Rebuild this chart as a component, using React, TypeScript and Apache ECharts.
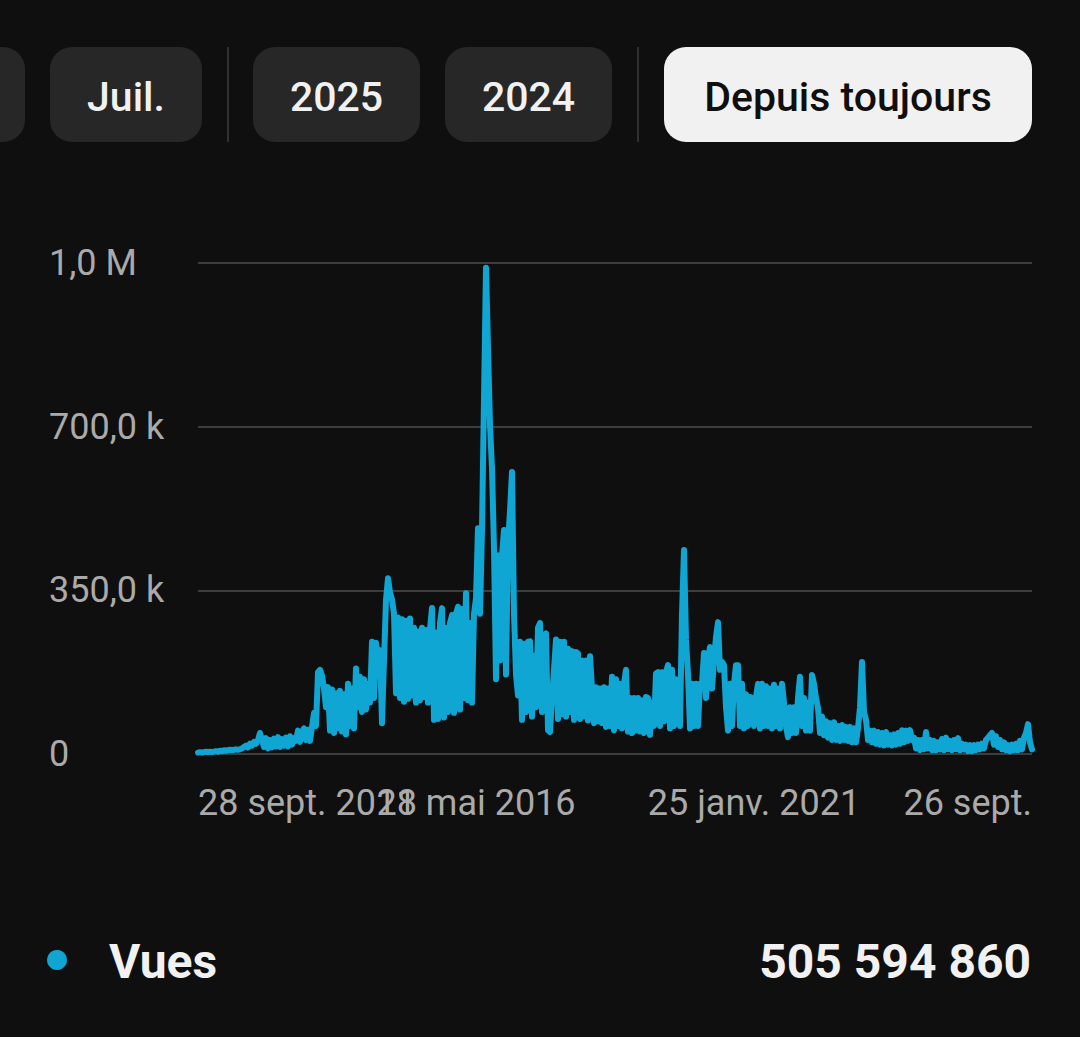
import React, { useEffect, useRef } from "react";
import * as echarts from "echarts";

// Views (in thousands), left to right, evenly spaced in time
const viewsEarly = [
  3, 4, 3, 4, 5, 4, 5, 4, 5, 6, 5,
  7, 6, 8, 7, 8, 9, 8, 9, 10, 9, 10,
  12, 15, 18, 14, 22, 18, 26, 22, 30,
  45, 30,
  15, 34, 12, 30, 14, 33, 16, 36, 15, 32, 18, 35, 16, 38, 20, 34,
  28, 50, 26, 45, 55, 30, 52, 28, 58,
  88, 60, 175, 180, 168, 140, 100,
  143, 50, 138, 45, 130, 55, 135, 48, 128, 42,
  150, 60, 140, 55, 183, 100, 165, 90, 160, 95, 150, 110,
  240, 120, 238, 200, 222, 66, 200, 330, 376, 345, 330, 300, 130, 292,
  120, 288, 112, 285, 118, 290, 125, 270, 110, 262, 115, 270, 122, 265, 110, 268,
  312, 73, 260, 75, 280, 312, 78, 270, 90, 280, 297, 88, 300, 315, 95, 310, 120,
  344, 115, 280, 110, 300, 333,
];
const viewsMiddle = [
  483, 300, 480, 760, 1040, 868, 703, 611, 440, 160,
  425, 200, 425, 479, 170, 450, 520, 603, 300, 170,
  125, 240, 73, 235, 90, 240, 241, 80, 210, 100,
  270, 280, 90, 250, 258, 51, 47, 120, 180, 245,
  75, 240, 85, 240, 80, 225, 90, 220, 73, 218,
  215, 75, 200, 80, 200, 72, 209, 140, 66, 143,
  70, 140, 66, 143, 58, 140, 60, 165, 51, 160,
  60, 150, 55, 150, 180, 48, 120, 45, 120, 50,
  120, 48, 115, 45, 122, 120, 41, 110, 60, 172,
  175, 60, 175, 70, 175, 190, 55, 180, 60, 160,
  150, 60, 300, 436, 244, 170, 55, 150, 60, 150,
  60, 150, 150, 216, 120, 200, 229, 140, 200, 250,
  282, 180, 197, 190, 100, 50, 150, 60, 150, 190,
  190, 60, 150, 55, 128, 60, 122, 120, 60,
];
const viewsLate = [
  122, 150, 55, 150, 60, 145, 60, 140, 55, 148,
  60, 140, 55, 150, 110, 60, 36, 100, 45, 100,
  45, 120, 165, 60, 120, 50, 110, 50, 169, 150,
  120, 98, 45, 80, 40, 70, 35, 66, 30, 68,
  30, 60, 28, 62, 30, 58, 28, 58, 25, 55,
  25, 55, 100, 197, 90, 73, 30, 50, 25, 50,
  22, 47, 20, 45, 18, 47, 20, 40, 18, 42,
  20, 45, 22, 51, 25, 50, 28, 51, 30, 35,
  12, 30, 8, 30, 10, 47, 12, 30, 8, 28,
  8, 25, 10, 32, 8, 35, 10, 28, 8, 30,
  10, 34, 8, 22, 10, 20, 6, 19, 6, 19,
  8, 20, 10, 22, 12, 30, 35, 40, 45, 20,
  38, 15, 30, 10, 25, 8, 19, 6, 20, 8,
  22, 8, 28, 10, 35, 45, 64, 25, 10,
];

const xTickLabels = ["28 sept. 2011", "28 mai 2016", "25 janv. 2021", "26 sept."];
const yTickLabels = ["0", "350,0 k", "700,0 k", "1,0 M"];
const periodButtons = ["Juil.", "2025", "2024", "Depuis toujours"];
const legendName = "Vues";
const totalViews = "505 594 860";

const LINE = "#10a6d4";
const BG = "#0f0f0f";
const FONT = "Roboto, 'Noto Sans', sans-serif";

export default function App() {
  const ref = useRef<HTMLDivElement>(null);
  useEffect(() => {
    if (!ref.current) return;
    const chart = echarts.init(ref.current, undefined, { renderer: "svg" });
    const views = [...viewsEarly, ...viewsMiddle, ...viewsLate];
    const lastIdx = views.length - 1;
    const step = lastIdx / 3;

    const btn = (x: number, w: number, label: string, selected: boolean) => ({
      type: "group",
      children: [
        {
          type: "rect",
          shape: { x, y: 47, width: w, height: 95, r: 22 },
          style: { fill: selected ? "#f1f1f1" : "#272727" },
        },
        {
          type: "text",
          x: x + w / 2,
          y: 97,
          style: {
            text: label,
            fill: selected ? "#0f0f0f" : "#f1f1f1",
            font: `500 41px ${FONT}`,
            align: "center",
            verticalAlign: "middle",
          },
        },
      ],
    });

    const xLabel = {
      color: "#aaaaaa",
      fontSize: 36,
      fontFamily: FONT,
      margin: 31,
      hideOverlap: false,
    };

    chart.setOption({
      animation: false,
      backgroundColor: BG,
      grid: { left: 198, right: 48, top: 263, bottom: 283, containLabel: false },
      xAxis: [
        {
          type: "value",
          min: 0,
          max: lastIdx,
          interval: step,
          axisLine: { show: false },
          axisTick: { show: false },
          splitLine: { show: false },
          axisLabel: {
            ...xLabel,
            showMinLabel: false,
            showMaxLabel: true,
            alignMaxLabel: "right",
            formatter: (v: number) => xTickLabels[Math.round(v / step)] ?? "",
          },
        },
        {
          type: "value",
          position: "bottom",
          min: 0,
          max: lastIdx,
          interval: lastIdx,
          axisLine: { show: false },
          axisTick: { show: false },
          splitLine: { show: false },
          axisLabel: {
            ...xLabel,
            showMinLabel: true,
            showMaxLabel: false,
            alignMinLabel: "left",
            formatter: (v: number) => (v === 0 ? xTickLabels[0] : ""),
          },
        },
      ],
      yAxis: {
        type: "value",
        min: 0,
        max: 1050,
        interval: 350,
        axisLine: { show: false },
        axisTick: { show: false },
        splitLine: { lineStyle: { color: "#3d3d3d", width: 2 } },
        axisLabel: {
          color: "#aaaaaa",
          fontSize: 36,
          fontFamily: FONT,
          align: "left",
          margin: 149,
          formatter: (v: number) => yTickLabels[Math.round(v / 350)] ?? "",
        },
      },
      series: [
        {
          type: "line",
          name: legendName,
          xAxisIndex: 0,
          data: views.map((v, i) => [i, v]),
          showSymbol: false,
          lineStyle: { color: LINE, width: 6, join: "round", cap: "round" },
          itemStyle: { color: LINE },
        },
      ],
      graphic: [
        btn(-60, 85, "", false),
        btn(50, 152, periodButtons[0], false),
        {
          type: "line",
          shape: { x1: 228, y1: 47, x2: 228, y2: 142 },
          style: { stroke: "#303030", lineWidth: 2 },
        },
        btn(253, 167, periodButtons[1], false),
        btn(445, 167, periodButtons[2], false),
        {
          type: "line",
          shape: { x1: 638, y1: 47, x2: 638, y2: 142 },
          style: { stroke: "#303030", lineWidth: 2 },
        },
        btn(664, 368, periodButtons[3], true),
        {
          type: "circle",
          shape: { cx: 57, cy: 960, r: 10 },
          style: { fill: LINE },
        },
        {
          type: "text",
          x: 109,
          y: 961,
          style: {
            text: legendName,
            fill: "#f1f1f1",
            font: `700 48px ${FONT}`,
            align: "left",
            verticalAlign: "middle",
          },
        },
        {
          type: "text",
          x: 1031,
          y: 961,
          style: {
            text: totalViews,
            fill: "#f1f1f1",
            font: `700 48px ${FONT}`,
            align: "right",
            verticalAlign: "middle",
          },
        },
      ],
    });
    return () => chart.dispose();
  }, []);

  return (
    <div
      style={{
        position: "fixed",
        left: 0,
        top: 0,
        width: 1080,
        height: 1037,
        background: BG,
      }}
    >
      <div ref={ref} style={{ width: 1080, height: 1037 }} />
    </div>
  );
}
